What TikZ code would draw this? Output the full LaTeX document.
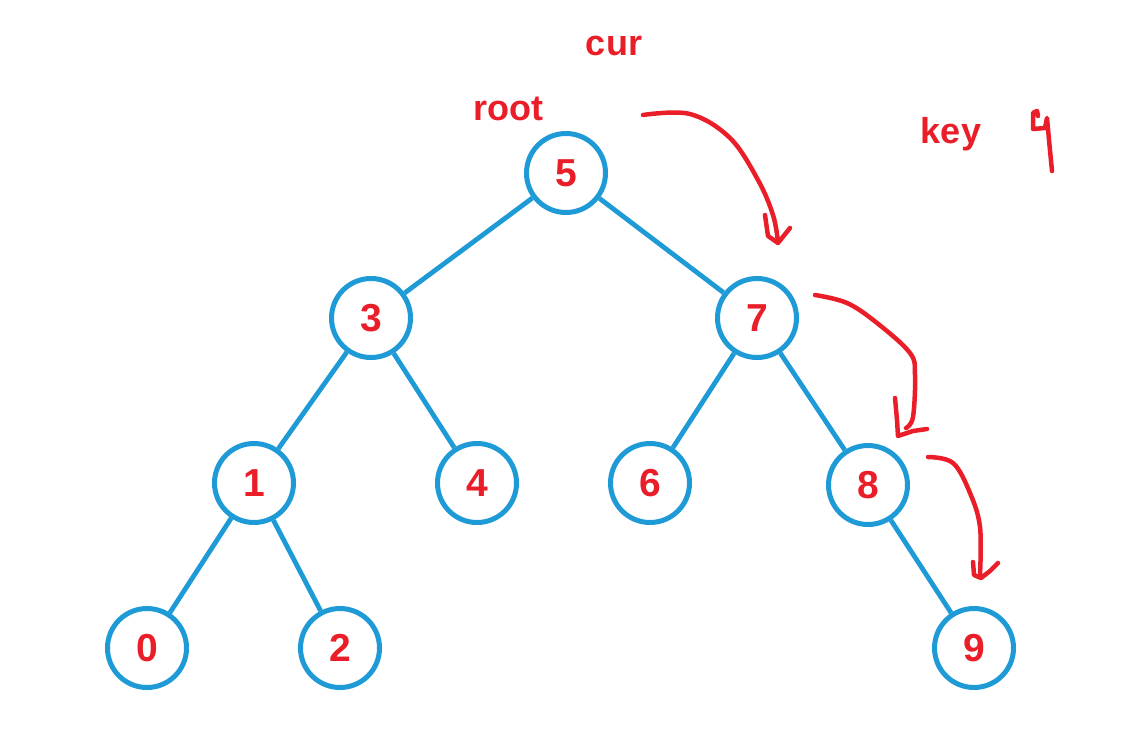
\documentclass[tikz,border=0pt]{standalone}
\usepackage{fontspec}
\setmainfont{Liberation Sans}
\usepackage{tikz}
\usetikzlibrary{positioning}
\definecolor{treeblue}{RGB}{30,155,215}
\definecolor{penred}{RGB}{234,30,40}

\begin{document}
\begin{tikzpicture}[x=1pt,y=-1pt,
  nd/.style={draw=treeblue,line width=5pt,circle,minimum size=79pt,inner sep=0pt,
    text=penred,font=\fontsize{39}{39}\selectfont\bfseries},
  lbl/.style={text=penred,anchor=base,inner sep=0pt,font=\fontsize{36}{36}\selectfont\bfseries},
  edge/.style={draw=treeblue,line width=4.8pt},
  hand/.style={draw=penred,line width=4.5pt,line cap=round,line join=round}]
\useasboundingbox[fill=white] (0,0) rectangle (1127,747);
% tree
\node[nd] (n5) at (566,173) {5};
\node[nd] (n3) at (371,318) {3};
\node[nd] (n7) at (757,318) {7};
\node[nd] (n1) at (254,483) {1};
\node[nd] (n4) at (477,483) {4};
\node[nd] (n6) at (650,483) {6};
\node[nd] (n8) at (868,485) {8};
\node[nd] (n0) at (147,648) {0};
\node[nd] (n2) at (340,648) {2};
\node[nd] (n9) at (974,648) {9};
\draw[edge] (n5)--(n3);
\draw[edge] (n5)--(n7);
\draw[edge] (n3)--(n1);
\draw[edge] (n3)--(n4);
\draw[edge] (n7)--(n6);
\draw[edge] (n7)--(n8);
\draw[edge] (n1)--(n0);
\draw[edge] (n1)--(n2);
\draw[edge] (n8)--(n9);
% labels
\node[lbl] (cur) at (614,55) {cur};
\node[lbl] (root) at (508,120) {root};
\node[lbl] (key) at (951,143) {key};
% hand drawn arrows
\draw[hand] plot[smooth,tension=0.6] coordinates {(643,115) (690,114) (730,138) (758,180) (773,215) (778,242)};
\draw[hand] (765,215) -- (768,236) -- (778,243) -- (790,228);
\draw[hand] plot[smooth,tension=0.6] coordinates {(815,295) (847,303) (877,323) (910,353) (915,375) (913,417) (906,428)};
\draw[hand] (895,398) -- (897,420) -- (898,436) -- (913,431) -- (927,429);
\draw[hand] plot[smooth,tension=0.6] coordinates {(928,457) (953,463) (970,493) (980,527) (980,575)};
\draw[hand] (973,562) -- (974,575) -- (981,578) -- (990,571) -- (998,563);
% scribble
\draw[hand] (1038,116) -- (1037,111) -- (1033,113) -- (1033,129) -- (1045,128) -- (1047,118) -- (1049,140) -- (1052,171);
\end{tikzpicture}
\end{document}
